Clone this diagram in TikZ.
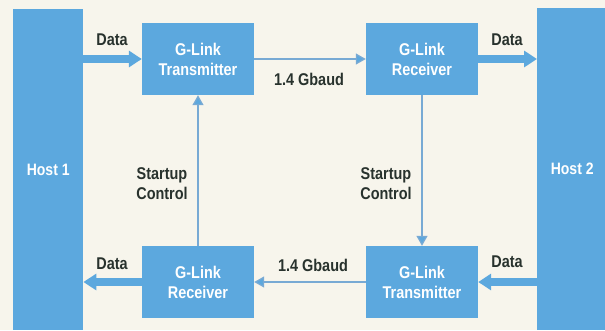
\documentclass[tikz,border=0pt]{standalone}
\usepackage{fontspec}
\setmainfont{Liberation Sans}[FakeStretch=0.85]
\usetikzlibrary{arrows.meta,positioning}
\definecolor{cream}{RGB}{247,245,236}
\definecolor{sky}{RGB}{92,168,222}
\definecolor{wire}{RGB}{120,170,212}
\definecolor{ink}{RGB}{40,50,45}
\tikzset{
  host/.style={fill=sky,minimum width=70pt,text=white,inner sep=0pt,
    font=\bfseries\fontsize{16.5}{19}\selectfont},
  link/.style={fill=sky,minimum width=112pt,minimum height=72pt,text=white,align=center,
    inner sep=0pt,font=\bfseries\fontsize{17}{20}\selectfont},
  tag/.style={text=ink,align=center,inner sep=0pt,font=\bfseries\fontsize{17}{20}\selectfont},
  fat/.style={-{Triangle[length=13pt,width=16pt]},line width=8pt,draw=sky},
  thin/.style={-{Triangle[length=10pt,width=11pt,fill=sky]},line width=1.3pt,draw=wire},
}
\begin{document}
\begin{tikzpicture}[x=1pt,y=-1pt]
  \fill[cream] (0,0) rectangle (605,330);
  \useasboundingbox (0,0) rectangle (605,330);
  % hosts
  \node[host,minimum height=321pt,anchor=north west] (host1) at (13,9) {Host 1};
  \node[host,minimum height=322pt,anchor=north west] (host2) at (537,8) {Host 2};
  % G-Link chips
  \node[link] (tx1) at (198,59) {G-Link\\Transmitter};
  \node[link] (rx1) at (422,59) {G-Link\\Receiver};
  \node[link] (rx2) at (198,282) {G-Link\\Receiver};
  \node[link] (tx2) at (422,282) {G-Link\\Transmitter};
  % data paths
  \draw[fat] (tx1.west -| host1.east) -- (tx1.west);
  \draw[fat] (rx1.east) -- (rx1.east -| host2.west);
  \draw[fat] (tx2.east -| host2.west) -- (tx2.east);
  \draw[fat] (rx2.west) -- (rx2.west -| host1.east);
  % serial links and startup control
  \draw[thin] (tx1.east) -- (rx1.west);
  \draw[thin] (tx2.west) -- (rx2.east);
  \draw[thin] (rx1.south) -- (tx2.north);
  \draw[thin] (rx2.north) -- (tx1.south);
  % labels
  \node[tag] (data1) at (112,40) {Data};
  \node[tag] (data2) at (507,40) {Data};
  \node[tag] (data3) at (112,264) {Data};
  \node[tag] (data4) at (507,262) {Data};
  \node[tag] (baud1) at (309,79) {1.4 Gbaud};
  \node[tag] (baud2) at (313,265) {1.4 Gbaud};
  \node[tag] (ctrl1) at (162,184) {Startup\\Control};
  \node[tag] (ctrl2) at (386,184) {Startup\\Control};
\end{tikzpicture}
\end{document}
